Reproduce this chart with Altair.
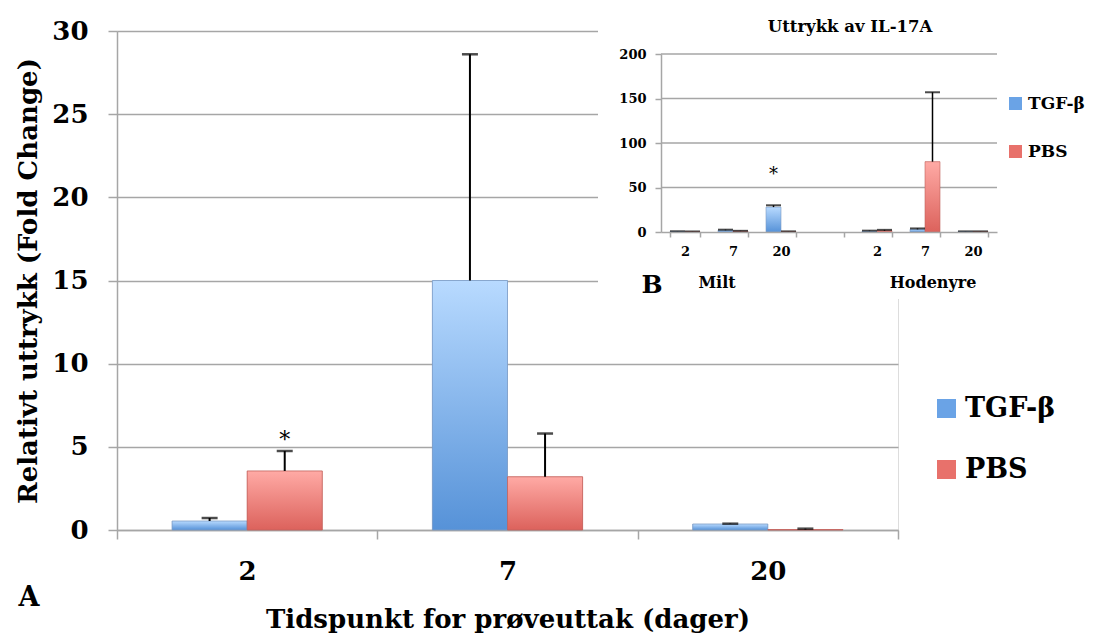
import altair as alt
import pandas as pd

# ---------------- data ----------------
days = ["2", "7", "20"]
series = ["TGF-β", "PBS"]
tgf_mean = [0.54, 15.0, 0.36]
tgf_upper = [0.72, 28.6, 0.38]
pbs_mean = [3.55, 3.2, 0.03]
pbs_upper = [4.75, 5.8, 0.08]
y_ticks = [0, 5, 10, 15, 20, 25, 30]
main_sig_day = ["2"]
main_sig_series = ["PBS"]
main_sig_value = [5.4]

inset_slots = ["Milt 2", "Milt 7", "Milt 20", "gap", "Hodenyre 2", "Hodenyre 7", "Hodenyre 20"]
inset_data_slots = ["Milt 2", "Milt 7", "Milt 20", "Hodenyre 2", "Hodenyre 7", "Hodenyre 20"]
inset_tgf_mean = [0.6, 2.0, 28.0, 1.0, 3.0, 0.5]
inset_tgf_upper = [0.8, 2.6, 30.0, 1.5, 4.0, 0.7]
inset_pbs_mean = [0.4, 1.0, 0.5, 1.5, 79.0, 0.5]
inset_pbs_upper = [0.6, 1.3, 0.7, 2.4, 157.0, 0.7]
inset_y_ticks = [0, 50, 100, 150, 200]
inset_grid_values = [50, 100, 150, 200]
inset_sig_slot = ["Milt 20"]
inset_sig_series = ["TGF-β"]
inset_sig_value = [64]

# ---------------- layout / style ----------------
W, H = 781, 499
FONT = "DejaVu Serif"
GRAY = "#a6a6a6"
BLUE = "#6aa3e6"
RED = "#e8716b"
blue_grad = alt.Gradient(gradient="linear", x1=0, x2=0, y1=0, y2=1,
                         stops=[alt.GradientStop(color="#b8daff", offset=0),
                                alt.GradientStop(color="#5692d8", offset=1)])
red_grad = alt.Gradient(gradient="linear", x1=0, x2=0, y1=0, y2=1,
                        stops=[alt.GradientStop(color="#ffaaa5", offset=0),
                               alt.GradientStop(color="#dc625c", offset=1)])

main_df = pd.DataFrame({
    "day": days * 2,
    "series": [series[0]] * 3 + [series[1]] * 3,
    "value": tgf_mean + pbs_mean,
    "upper": tgf_upper + pbs_upper,
})
main_sig_df = pd.DataFrame({"day": main_sig_day, "series": main_sig_series,
                            "value": main_sig_value, "txt": ["*"]})

inset_df = pd.DataFrame({
    "slot": inset_data_slots * 2,
    "series": [series[0]] * 6 + [series[1]] * 6,
    "value": inset_tgf_mean + inset_pbs_mean,
    "upper": inset_tgf_upper + inset_pbs_upper,
})
inset_sig_df = pd.DataFrame({"slot": inset_sig_slot, "series": inset_sig_series,
                             "value": inset_sig_value, "txt": ["*"]})
inset_grid_df = pd.DataFrame({"value": inset_grid_values})
one = pd.DataFrame({"a": [0]})

# ---------------- main chart ----------------
x_main = alt.X("day:N", sort=days,
               scale=alt.Scale(domain=days, paddingInner=0, paddingOuter=0),
               axis=alt.Axis(title="Tidspunkt for prøveuttak (dager)", tickBand="extent",
                             labelAngle=0, labelFontSize=26, labelFont=FONT,
                             labelFontWeight="bold", labelColor="black", labelPadding=19,
                             titleFontSize=26, titleFont=FONT, titleFontWeight="bold",
                             titleColor="black", titlePadding=22,
                             domainColor=GRAY, domainWidth=1.5, tickColor=GRAY,
                             tickWidth=1.5, tickSize=9, grid=False))
xo_main = alt.XOffset("series:N", sort=series,
                      scale=alt.Scale(domain=series, paddingInner=0, paddingOuter=0.733))
y_main = alt.Y("value:Q", scale=alt.Scale(domain=[0, 30], nice=False),
               axis=alt.Axis(values=y_ticks, title="Relativt uttrykk (Fold Change)",
                             grid=True, gridColor=GRAY, gridWidth=1.5,
                             domainColor=GRAY, domainWidth=1.5, tickColor=GRAY,
                             tickWidth=1.5, tickSize=9, labelFontSize=26, labelFont=FONT,
                             labelFontWeight="bold", labelColor="black", labelPadding=20,
                             titleFontSize=26, titleFont=FONT, titleFontWeight="bold",
                             titleColor="black", titlePadding=10))

base_main = alt.Chart(main_df)
bars_main = base_main.mark_bar().encode(
    x=x_main, xOffset=xo_main, y=y_main,
    color=alt.Color("series:N", sort=series,
                    scale=alt.Scale(domain=series, range=[BLUE, RED]),
                    legend=alt.Legend(orient="none", legendX=816, legendY=364, title=None,
                                      symbolType="square", symbolSize=361,
                                      symbolStrokeWidth=0, labelFontSize=27,
                                      labelFont=FONT, labelFontWeight="bold",
                                      labelColor="black", labelOffset=5,
                                      rowPadding=33, padding=0)))
grad_tgf = base_main.transform_filter(alt.datum.series == series[0]).mark_bar(
    color=blue_grad, stroke="#7d9cc4", strokeWidth=0.8).encode(
    x="day:N", xOffset="series:N", y="value:Q")
grad_pbs = base_main.transform_filter(alt.datum.series == series[1]).mark_bar(
    color=red_grad, stroke="#c0625d", strokeWidth=0.8).encode(
    x="day:N", xOffset="series:N", y="value:Q")
err_main = base_main.mark_rule(color="black", strokeWidth=2).encode(
    x="day:N", xOffset="series:N", y="value:Q", y2="upper:Q")
cap_main = base_main.mark_tick(color="black", orient="horizontal", size=16,
                               thickness=2.5).encode(
    x="day:N", xOffset="series:N", y=alt.Y("upper:Q"))
sig_main = alt.Chart(main_sig_df).mark_text(font=FONT, fontSize=22, color="black",
                                            baseline="middle").encode(
    x="day:N", xOffset="series:N", y="value:Q", text="txt:N")
letter_a = alt.Chart(one).mark_text(text="A", font=FONT, fontSize=27, fontWeight="bold",
                                    color="black", align="center", baseline="middle").encode(
    x=alt.value(-88), y=alt.value(567))
white_box = alt.Chart(one).mark_rect(color="white").encode(
    x=alt.value(481), x2=alt.value(980), y=alt.value(-31), y2=alt.value(268))

main = alt.layer(bars_main, grad_tgf, grad_pbs, err_main, cap_main, sig_main,
                 letter_a, white_box)

# ---------------- inset chart ----------------
x_in = alt.X("slot:N", sort=inset_slots,
             scale=alt.Scale(domain=inset_slots, range=[544, 880],
                             paddingInner=0.375, paddingOuter=0.1875),
             axis=alt.Axis(orient="bottom", offset=-298, title=None, tickBand="extent",
                           labelExpr="datum.label == 'gap' ? '' : split(datum.label, ' ')[1]",
                           labelAngle=0, labelFontSize=13, labelFont=FONT,
                           labelFontWeight="bold", labelColor="black", labelPadding=8,
                           domainColor=GRAY, domainWidth=1.5, tickColor=GRAY,
                           tickWidth=1.5, tickSize=5, grid=False, zindex=1))
xo_in = alt.XOffset("series:N", sort=series,
                    scale=alt.Scale(domain=series, paddingInner=0, paddingOuter=0))
y_in = alt.Y("value:Q", scale=alt.Scale(domain=[0, 200], range=[201, 23], nice=False),
             axis=alt.Axis(orient="left", offset=-544, values=inset_y_ticks, title=None,
                           grid=False, domainColor=GRAY, domainWidth=1.5, tickColor=GRAY,
                           tickWidth=1.5, tickSize=6, labelFontSize=13, labelFont=FONT,
                           labelFontWeight="bold", labelColor="black", labelPadding=9,
                           zindex=1))

grid_in = alt.Chart(inset_grid_df).mark_rule(color=GRAY, strokeWidth=1.5).encode(
    y=y_in, x=alt.value(544), x2=alt.value(880))
base_in = alt.Chart(inset_df)
bars_in = base_in.mark_bar().encode(
    x=x_in, xOffset=xo_in, y="value:Q",
    color=alt.Color("series:N", sort=series,
                    scale=alt.Scale(domain=series, range=[BLUE, RED]),
                    legend=alt.Legend(orient="none", legendX=890, legendY=64, title=None,
                                      symbolType="square", symbolSize=169,
                                      symbolStrokeWidth=0, labelFontSize=17,
                                      labelFont=FONT, labelFontWeight="bold",
                                      labelColor="black", labelOffset=4,
                                      rowPadding=30, padding=0)))
grad_tgf_in = base_in.transform_filter(alt.datum.series == series[0]).mark_bar(
    color=blue_grad, stroke="#7d9cc4", strokeWidth=0.6).encode(
    x="slot:N", xOffset="series:N", y="value:Q")
grad_pbs_in = base_in.transform_filter(alt.datum.series == series[1]).mark_bar(
    color=red_grad, stroke="#c0625d", strokeWidth=0.6).encode(
    x="slot:N", xOffset="series:N", y="value:Q")
err_in = base_in.mark_rule(color="black", strokeWidth=1.5).encode(
    x="slot:N", xOffset="series:N", y="value:Q", y2="upper:Q")
cap_in = base_in.mark_tick(color="black", orient="horizontal", size=15,
                           thickness=2).encode(
    x="slot:N", xOffset="series:N", y="upper:Q")
sig_in = alt.Chart(inset_sig_df).mark_text(font=FONT, fontSize=18, color="black",
                                           baseline="middle").encode(
    x="slot:N", xOffset="series:N", y="value:Q", text="txt:N")

title_in = alt.Chart(one).mark_text(text="Uttrykk av IL-17A", font=FONT, fontSize=16.5,
                                    fontWeight="bold", color="black", align="center",
                                    baseline="middle").encode(
    x=alt.value(733), y=alt.value(-4))
milt = alt.Chart(one).mark_text(text="Milt", font=FONT, fontSize=16, fontWeight="bold",
                                color="black", align="center", baseline="middle").encode(
    x=alt.value(600), y=alt.value(252))
hodenyre = alt.Chart(one).mark_text(text="Hodenyre", font=FONT, fontSize=16,
                                    fontWeight="bold", color="black", align="center",
                                    baseline="middle").encode(
    x=alt.value(816), y=alt.value(252))
letter_b = alt.Chart(one).mark_text(text="B", font=FONT, fontSize=25, fontWeight="bold",
                                    color="black", align="center", baseline="middle").encode(
    x=alt.value(535), y=alt.value(254))

inset = alt.layer(grid_in, bars_in, grad_tgf_in, grad_pbs_in, err_in, cap_in, sig_in,
                  title_in, milt, hodenyre, letter_b)

chart = alt.layer(main, inset).resolve_scale(
    x="independent", y="independent", xOffset="independent", color="independent"
).resolve_axis(x="independent", y="independent").resolve_legend(
    color="independent"
).properties(
    width=W, height=H,
    autosize=alt.AutoSizeParams(type="none"),
    padding={"left": 117, "top": 31, "right": 195, "bottom": 107},
).configure_view(stroke=None).configure(background="white").configure_legend(
    labelFontWeight="bold", labelFont=FONT, labelColor="black")

chart.save("out.html", embed_options={"renderer": "svg", "actions": False})
